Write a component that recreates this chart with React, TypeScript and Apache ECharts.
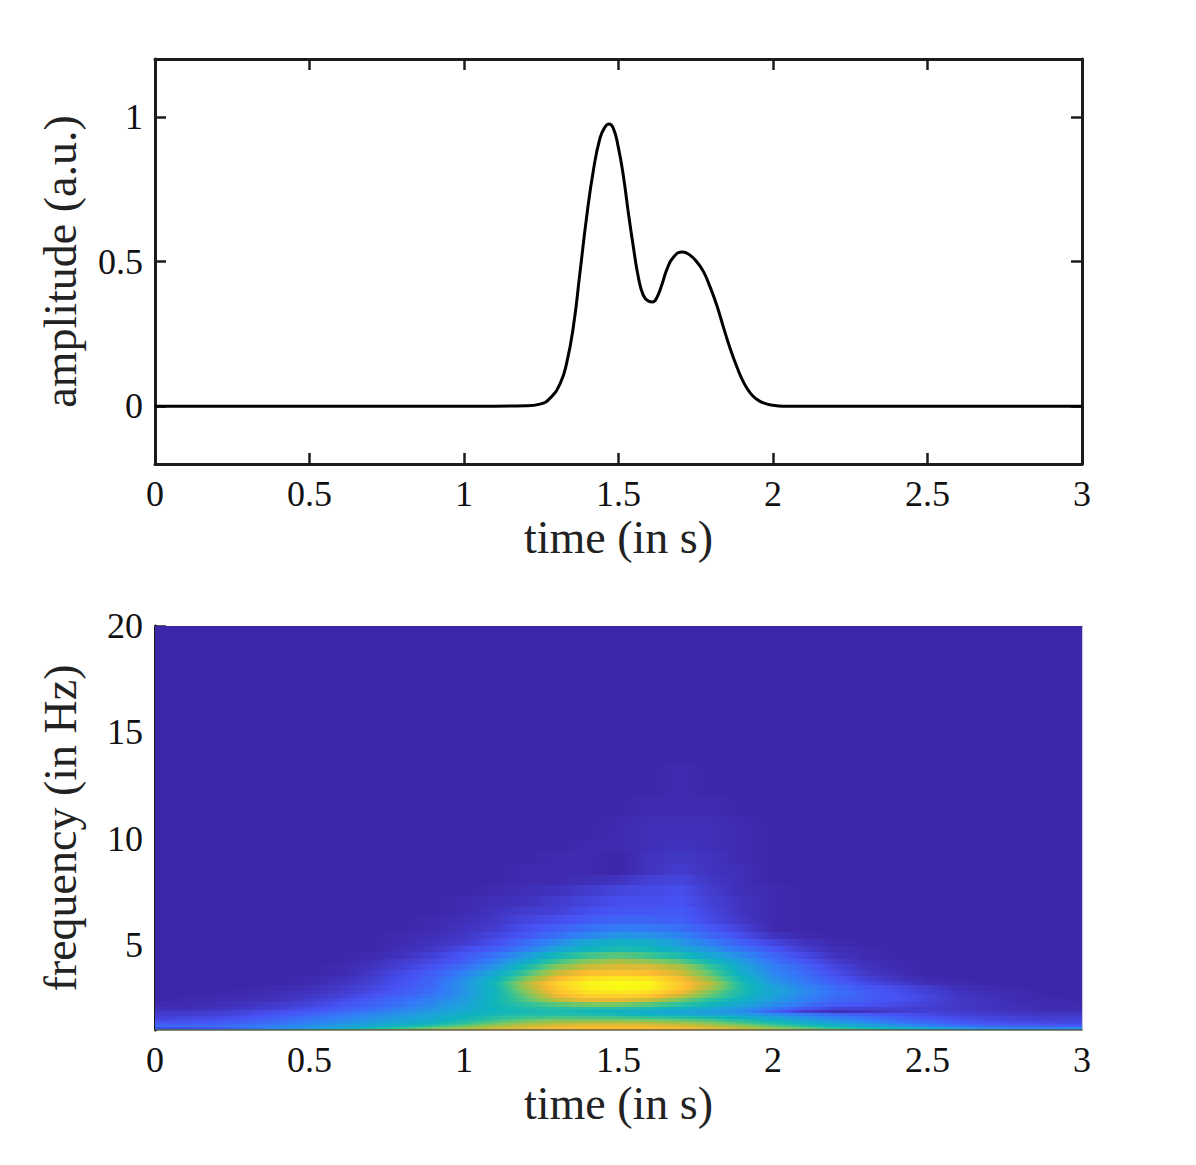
import { useEffect, useRef } from "react";
import * as echarts from "echarts";

// amplitude trace
const traceTime = [0, 1.1, 1.2, 1.246, 1.278, 1.311, 1.332, 1.354, 1.375, 1.397, 1.419, 1.44, 1.456, 1.469, 1.483, 1.499, 1.516, 1.532, 1.548, 1.564, 1.58, 1.597, 1.61, 1.623, 1.64, 1.656, 1.677, 1.707, 1.731, 1.753, 1.775, 1.796, 1.818, 1.839, 1.861, 1.883, 1.904, 1.926, 1.947, 1.969, 2.001, 2.033, 2.2, 3];
const traceAmp = [0, 0, 0.001, 0.007, 0.027, 0.078, 0.148, 0.275, 0.459, 0.655, 0.817, 0.926, 0.964, 0.975, 0.961, 0.897, 0.794, 0.667, 0.551, 0.447, 0.384, 0.363, 0.36, 0.373, 0.419, 0.471, 0.514, 0.533, 0.522, 0.499, 0.465, 0.413, 0.349, 0.275, 0.2, 0.136, 0.084, 0.046, 0.024, 0.011, 0.003, 0, 0, 0];

// spectrogram columns (s) and row edges (Hz)
const specTime = [0, 0.1, 0.2, 0.3, 0.4, 0.5, 0.6, 0.7, 0.8, 0.9, 1, 1.1, 1.2, 1.3, 1.4, 1.5, 1.6, 1.7, 1.8, 1.9, 2, 2.1, 2.2, 2.3, 2.4, 2.5, 2.6, 2.7, 2.8, 2.9, 3];
const specFreq = [1, 1.07, 1.14, 1.21, 1.29, 1.38, 1.5, 1.65, 1.8, 1.95, 2.1, 2.3, 2.5, 2.7, 2.9, 3.1, 3.3, 3.55, 3.8, 4.1, 4.35, 4.65, 4.95, 5.3, 5.6, 6, 6.4, 6.8, 7.3, 7.8, 8.3, 8.8, 9.4, 10, 11, 12, 13.5, 20];

// one row per frequency band, lowest first, 0-100 on the colour scale
const specPower = [
  [38, 40, 40, 42, 45, 50, 55, 62, 68, 73, 77, 80, 82, 84, 85, 85, 84, 82, 80, 77, 72, 68, 62, 56, 50, 45, 40, 36, 32, 29, 27],
  [8, 8, 10, 16, 22, 27, 33, 42, 50, 58, 65, 72, 76, 79, 81, 82, 81, 79, 75, 70, 63, 56, 48, 42, 36, 31, 26, 23, 21, 21, 24],
  [16, 17, 18, 20, 23, 26, 31, 37, 44, 52, 60, 68, 74, 77, 79, 80, 79, 77, 72, 66, 58, 50, 42, 36, 30, 25, 20, 17, 15, 14, 14],
  [14, 14, 15, 17, 20, 24, 28, 33, 38, 45, 54, 63, 70, 74, 76, 76, 75, 72, 67, 60, 52, 44, 37, 31, 25, 20, 16, 13, 12, 11, 11],
  [11, 11, 12, 15, 18, 22, 26, 30, 34, 40, 49, 58, 65, 69, 71, 71, 70, 67, 62, 54, 46, 38, 31, 26, 20, 16, 13, 10, 9, 8, 8],
  [8, 9, 10, 12, 15, 19, 23, 27, 31, 36, 44, 52, 58, 62, 62, 62, 61, 58, 54, 47, 39, 32, 26, 21, 16, 13, 10, 8, 7, 6, 7],
  [6, 7, 8, 10, 13, 17, 21, 25, 29, 34, 40, 47, 51, 53, 53, 52, 50, 47, 43, 37, 31, 26, 21, 17, 13, 10, 8, 7, 6, 5, 6],
  [5, 5, 6, 8, 11, 14, 18, 23, 27, 32, 38, 43, 46, 47, 46, 43, 40, 37, 33, 29, 25, 20, 15, 12, 10, 8, 6, 5, 4, 4, 4],
  [4, 4, 5, 7, 9, 11, 15, 19, 24, 29, 35, 40, 43, 44, 41, 38, 35, 31, 28, 24, 14, 5, 2, 3, 5, 6, 5, 4, 3, 2, 2],
  [2, 2, 3, 4, 6, 9, 12, 16, 21, 26, 33, 40, 45, 47, 47, 46, 43, 38, 33, 27, 19, 11, 7, 6, 6, 5, 4, 3, 2, 1, 1],
  [1, 1, 2, 3, 5, 7, 10, 14, 18, 24, 31, 41, 49, 56, 60, 60, 56, 49, 41, 33, 25, 18, 12, 10, 8, 6, 4, 3, 2, 1, 1],
  [0, 1, 1, 2, 3, 5, 8, 12, 16, 21, 29, 41, 55, 70, 78, 78, 72, 60, 48, 38, 29, 21, 15, 12, 10, 7, 4, 3, 1, 1, 0],
  [0, 0, 1, 1, 2, 4, 6, 10, 14, 19, 27, 40, 58, 78, 87, 88, 84, 72, 56, 42, 31, 23, 17, 13, 10, 7, 4, 2, 1, 0, 0],
  [0, 0, 0, 1, 2, 3, 5, 8, 12, 17, 26, 40, 62, 83, 93, 95, 92, 80, 60, 44, 32, 24, 17, 13, 9, 6, 3, 2, 1, 0, 0],
  [0, 0, 0, 0, 1, 2, 4, 7, 11, 16, 26, 41, 66, 86, 97, 100, 98, 85, 67, 45, 32, 23, 16, 11, 8, 5, 2, 1, 0, 0, 0],
  [0, 0, 0, 0, 0, 1, 3, 6, 10, 15, 27, 42, 68, 88, 98, 100, 99, 85, 70, 44, 28, 20, 13, 8, 5, 2, 1, 0, 0, 0, 0],
  [0, 0, 0, 0, 0, 1, 2, 5, 9, 14, 24, 38, 60, 80, 92, 95, 93, 82, 62, 40, 25, 18, 11, 6, 3, 1, 0, 0, 0, 0, 0],
  [0, 0, 0, 0, 0, 0, 1, 4, 8, 13, 21, 33, 52, 72, 82, 84, 82, 74, 56, 36, 23, 16, 9, 4, 2, 0, 0, 0, 0, 0, 0],
  [0, 0, 0, 0, 0, 0, 1, 3, 6, 10, 17, 27, 44, 62, 73, 76, 75, 68, 50, 33, 21, 14, 7, 3, 1, 0, 0, 0, 0, 0, 0],
  [0, 0, 0, 0, 0, 0, 0, 2, 5, 8, 13, 22, 36, 52, 63, 68, 64, 56, 42, 29, 18, 11, 5, 2, 1, 0, 0, 0, 0, 0, 0],
  [0, 0, 0, 0, 0, 0, 0, 1, 3, 6, 11, 18, 28, 42, 52, 56, 52, 44, 33, 24, 15, 8, 3, 1, 0, 0, 0, 0, 0, 0, 0],
  [0, 0, 0, 0, 0, 0, 0, 0, 2, 4, 8, 13, 20, 32, 40, 44, 42, 34, 26, 18, 11, 5, 2, 1, 0, 0, 0, 0, 0, 0, 0],
  [0, 0, 0, 0, 0, 0, 0, 0, 1, 3, 5, 9, 16, 24, 33, 38, 36, 28, 20, 13, 7, 3, 1, 0, 0, 0, 0, 0, 0, 0, 0],
  [0, 0, 0, 0, 0, 0, 0, 0, 1, 2, 4, 7, 11, 17, 23, 27, 26, 22, 15, 9, 3, 1, 0, 0, 0, 0, 0, 0, 0, 0, 0],
  [0, 0, 0, 0, 0, 0, 0, 0, 0, 1, 3, 5, 9, 13, 17, 20, 19, 17, 11, 6, 1, 0, 0, 0, 0, 0, 0, 0, 0, 0, 0],
  [0, 0, 0, 0, 0, 0, 0, 0, 0, 1, 2, 4, 7, 9, 12, 14, 14, 13, 8, 4, 1, 0, 0, 0, 0, 0, 0, 0, 0, 0, 0],
  [0, 0, 0, 0, 0, 0, 0, 0, 0, 0, 1, 3, 5, 6, 9, 11, 11, 12, 7, 3, 1, 0, 0, 0, 0, 0, 0, 0, 0, 0, 0],
  [0, 0, 0, 0, 0, 0, 0, 0, 0, 0, 1, 2, 3, 5, 7, 9, 9, 10, 6, 3, 1, 0, 0, 0, 0, 0, 0, 0, 0, 0, 0],
  [0, 0, 0, 0, 0, 0, 0, 0, 0, 0, 0, 1, 2, 3, 5, 7, 8, 9, 5, 2, 1, 0, 0, 0, 0, 0, 0, 0, 0, 0, 0],
  [0, 0, 0, 0, 0, 0, 0, 0, 0, 0, 0, 0, 1, 1, 2, 3, 6, 7, 4, 2, 0, 0, 0, 0, 0, 0, 0, 0, 0, 0, 0],
  [0, 0, 0, 0, 0, 0, 0, 0, 0, 0, 0, 0, 1, 1, 1, 0, 3, 5, 3, 2, 0, 0, 0, 0, 0, 0, 0, 0, 0, 0, 0],
  [0, 0, 0, 0, 0, 0, 0, 0, 0, 0, 0, 0, 0, 1, 1, 0, 3, 4, 3, 1, 0, 0, 0, 0, 0, 0, 0, 0, 0, 0, 0],
  [0, 0, 0, 0, 0, 0, 0, 0, 0, 0, 0, 0, 0, 0, 1, 1, 2, 3, 2, 1, 0, 0, 0, 0, 0, 0, 0, 0, 0, 0, 0],
  [0, 0, 0, 0, 0, 0, 0, 0, 0, 0, 0, 0, 0, 0, 0, 1, 2, 2, 2, 1, 0, 0, 0, 0, 0, 0, 0, 0, 0, 0, 0],
  [0, 0, 0, 0, 0, 0, 0, 0, 0, 0, 0, 0, 0, 0, 0, 0, 1, 1, 1, 0, 0, 0, 0, 0, 0, 0, 0, 0, 0, 0, 0],
  [0, 0, 0, 0, 0, 0, 0, 0, 0, 0, 0, 0, 0, 0, 0, 0, 0, 1, 0, 0, 0, 0, 0, 0, 0, 0, 0, 0, 0, 0, 0],
  [0, 0, 0, 0, 0, 0, 0, 0, 0, 0, 0, 0, 0, 0, 0, 0, 0, 0, 0, 0, 0, 0, 0, 0, 0, 0, 0, 0, 0, 0, 0],
];

const parula = ["#3e26a8", "#4752f4", "#327cf7", "#1ea0dc", "#0eb4be", "#30c29a", "#78c864", "#b8be3c", "#fab832", "#fdd628", "#f9fb15"];

const ampTicks = [0, 0.5, 1];
const freqTicks = [5, 10, 15, 20];

const FONT = "Liberation Serif";
const INK = "#1c1c1c";

function colourAt(v: number) {
  return echarts.color.lerp(v / 100, parula) as string;
}

// each cell fades across to the value of the next column, the way the shaded original does
function renderCell(params: any, api: any) {
  const a = api.coord([api.value(0), api.value(3)]);
  const b = api.coord([api.value(1), api.value(2)]);
  const v0 = api.value(4);
  const v1 = api.value(5);
  const fill =
    v0 === v1
      ? colourAt(v0)
      : new echarts.graphic.LinearGradient(
          0, 0, 1, 0,
          [0, 0.25, 0.5, 0.75, 1].map((p) => ({ offset: p, color: colourAt(v0 + (v1 - v0) * p) }))
        );
  // whole pixels, otherwise the antialiased edges show as a faint lattice
  const x0 = Math.round(a[0]);
  const y0 = Math.round(a[1]);
  return {
    type: "rect",
    shape: { x: x0, y: y0, width: Math.round(b[0]) - x0, height: Math.round(b[1]) - y0 },
    style: { fill },
  };
}

const tickStyle = { color: INK, width: 2.5 };

function boxAxis(gridIndex: number, position: string, extra: any) {
  return {
    type: "value",
    gridIndex,
    position,
    axisLine: { show: true, onZero: false, lineStyle: { color: INK, width: 3 } },
    axisTick: { show: true, inside: true, length: 11, lineStyle: tickStyle },
    axisLabel: { show: false },
    splitLine: { show: false },
    ...extra,
  };
}

const tickFont = { fontFamily: FONT, fontSize: 36, color: "#111" };
const nameFont = { fontFamily: FONT, fontSize: 46, color: "#222" };

export default function App() {
  const chartRef = useRef<HTMLDivElement>(null);

  useEffect(() => {
    if (!chartRef.current) return;
    const chart = echarts.init(chartRef.current, null, { renderer: "svg" });

    const cells: number[][] = [];
    specPower.forEach((row, r) => {
      for (let c = 0; c < specTime.length - 1; c++) {
        cells.push([specTime[c], specTime[c + 1], specFreq[r], specFreq[r + 1], row[c], row[c + 1]]);
      }
    });

    const timeX = { min: 0, max: 3, interval: 0.5 };
    const ampY = { min: -0.2, max: 1.2 };
    const freqY = { min: 1, max: 20 };

    chart.setOption({
      animation: false,
      backgroundColor: "#fff",
      grid: [
        { left: 155, top: 59, width: 927, height: 405 },
        { left: 155, top: 626, width: 927, height: 404 },
      ],
      xAxis: [
        boxAxis(0, "bottom", {
          ...timeX,
          name: "time (in s)",
          nameLocation: "middle",
          nameGap: 50,
          nameTextStyle: nameFont,
          axisLabel: { show: true, margin: 12, ...tickFont },
        }),
        boxAxis(0, "top", timeX),
        boxAxis(1, "bottom", {
          ...timeX,
          z: 3,
          name: "time (in s)",
          nameLocation: "middle",
          nameGap: 50,
          nameTextStyle: nameFont,
          axisLine: { show: true, onZero: false, lineStyle: { color: "rgba(70,70,60,0.85)", width: 1.5 } },
          axisTick: { show: false },
          axisLabel: { show: true, margin: 12, ...tickFont },
        }),
        boxAxis(1, "top", {
          ...timeX,
          axisLine: { show: true, onZero: false, lineStyle: { color: "#8f8f9f", width: 1 } },
          axisTick: { show: false },
        }),
      ],
      yAxis: [
        boxAxis(0, "left", {
          ...ampY,
          name: "amplitude (a.u.)",
          nameLocation: "middle",
          nameGap: 72,
          nameTextStyle: nameFont,
          axisTick: { show: true, inside: true, length: 11, customValues: ampTicks, lineStyle: tickStyle },
          axisLabel: { show: true, margin: 12, customValues: ampTicks, ...tickFont },
        }),
        boxAxis(0, "right", {
          ...ampY,
          axisTick: { show: true, inside: true, length: 11, customValues: ampTicks, lineStyle: tickStyle },
        }),
        boxAxis(1, "left", {
          ...freqY,
          name: "frequency (in Hz)",
          nameLocation: "middle",
          nameGap: 72,
          nameTextStyle: nameFont,
          axisTick: { show: true, inside: true, length: 11, customValues: freqTicks, lineStyle: tickStyle },
          axisLabel: { show: true, margin: 12, customValues: freqTicks, ...tickFont },
        }),
        boxAxis(1, "right", {
          ...freqY,
          axisLine: { show: true, onZero: false, lineStyle: { color: "#c9c4e0", width: 1 } },
          axisTick: { show: false },
        }),
      ],
      series: [
        {
          type: "line",
          xAxisIndex: 0,
          yAxisIndex: 0,
          data: traceTime.map((t, i) => [t, traceAmp[i]]),
          smooth: 0.5,
          showSymbol: false,
          lineStyle: { color: "#000", width: 3 },
        },
        {
          type: "custom",
          xAxisIndex: 2,
          yAxisIndex: 2,
          data: cells,
          encode: { x: [0, 1], y: [2, 3] },
          clip: true,
          silent: true,
          renderItem: renderCell,
        },
      ],
    });

    return () => {
      chart.dispose();
    };
  }, []);

  return (
    <div
      ref={chartRef}
      style={{ position: "absolute", left: 0, top: 0, width: 1196, height: 1165 }}
    ></div>
  );
}
